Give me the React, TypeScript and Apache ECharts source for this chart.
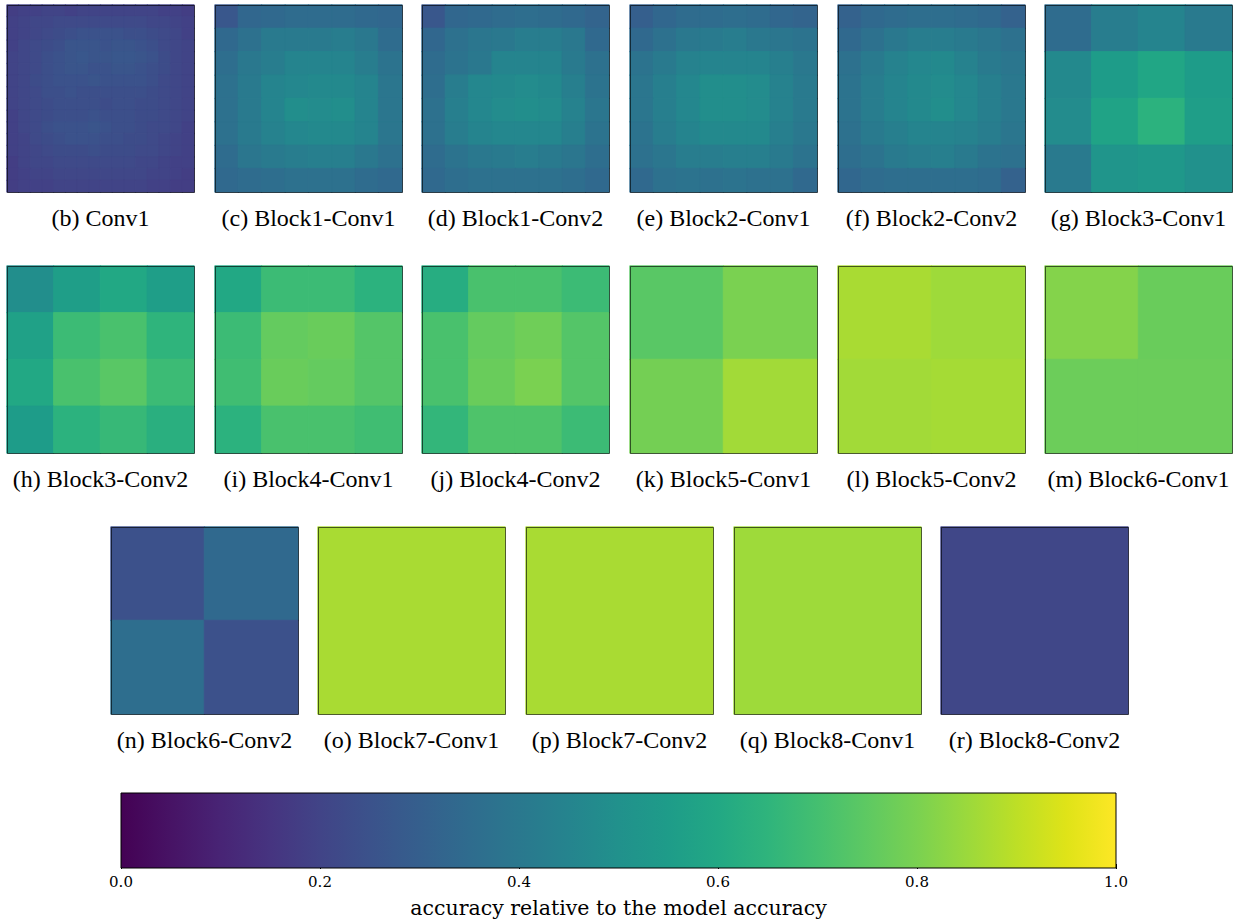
import React, { useEffect, useRef } from "react";
import * as echarts from "echarts";

const viridis = ['#440154','#471365','#482475','#463480','#414487','#3b528b','#355f8d','#2f6c8e','#2a788e','#25848e','#21918c','#1e9c89','#22a884','#2fb47c','#44bf70','#5ec962','#7ad151','#9bd93c','#bddf26','#dfe318','#fde725'];

const conv1 = [
  [.18,.19,.19,.20,.20,.19,.20,.20,.20,.20,.20,.20,.20,.19,.19,.18],
  [.19,.20,.21,.21,.22,.22,.22,.22,.22,.22,.22,.22,.21,.21,.20,.19],
  [.19,.20,.21,.22,.23,.24,.25,.25,.25,.25,.24,.24,.23,.22,.21,.19],
  [.19,.21,.22,.23,.24,.26,.26,.26,.25,.26,.26,.25,.24,.22,.21,.20],
  [.20,.21,.22,.24,.25,.26,.27,.26,.26,.27,.27,.26,.25,.23,.21,.20],
  [.20,.21,.22,.24,.25,.26,.26,.25,.25,.26,.26,.25,.24,.23,.21,.20],
  [.20,.21,.23,.24,.25,.25,.25,.26,.25,.25,.25,.25,.24,.22,.21,.20],
  [.20,.21,.22,.24,.24,.25,.24,.24,.24,.24,.24,.24,.23,.22,.21,.20],
  [.20,.21,.22,.23,.24,.24,.24,.24,.23,.24,.24,.23,.23,.22,.21,.20],
  [.19,.21,.22,.23,.24,.24,.24,.25,.24,.24,.24,.23,.23,.22,.21,.20],
  [.19,.21,.22,.24,.25,.25,.25,.26,.25,.24,.24,.23,.22,.22,.21,.19],
  [.19,.20,.22,.23,.24,.25,.25,.25,.24,.24,.23,.23,.22,.21,.20,.19],
  [.19,.20,.21,.22,.23,.23,.23,.24,.23,.23,.23,.22,.22,.21,.20,.19],
  [.18,.20,.21,.21,.22,.22,.22,.22,.22,.22,.22,.21,.21,.20,.19,.19],
  [.18,.19,.20,.20,.21,.21,.21,.21,.21,.21,.21,.21,.20,.20,.19,.18],
  [.18,.19,.19,.19,.20,.20,.20,.20,.20,.20,.20,.20,.19,.19,.18,.18],
];

const block1Conv1 = [
  [.27,.33,.34,.35,.35,.35,.34,.33],
  [.34,.37,.41,.41,.41,.42,.40,.35],
  [.36,.40,.42,.45,.45,.45,.42,.38],
  [.37,.41,.45,.46,.47,.47,.45,.39],
  [.37,.41,.45,.49,.48,.49,.45,.39],
  [.37,.41,.44,.46,.47,.47,.45,.39],
  [.35,.39,.41,.42,.43,.43,.40,.37],
  [.34,.35,.36,.37,.37,.37,.35,.34],
];
const block1Conv2 = [
  [.27,.33,.34,.35,.36,.35,.34,.32],
  [.33,.37,.39,.40,.42,.42,.40,.34],
  [.35,.38,.40,.45,.45,.45,.41,.37],
  [.36,.42,.46,.47,.48,.47,.43,.38],
  [.37,.43,.46,.48,.49,.48,.44,.39],
  [.37,.42,.45,.46,.46,.46,.43,.38],
  [.35,.38,.40,.41,.42,.41,.39,.36],
  [.34,.36,.37,.37,.37,.37,.36,.34],
];
const block2Conv1 = [
  [.30,.33,.35,.35,.36,.35,.33,.32],
  [.34,.37,.40,.41,.42,.40,.39,.38],
  [.38,.41,.44,.45,.45,.45,.43,.40],
  [.39,.43,.46,.49,.49,.48,.44,.41],
  [.39,.43,.46,.49,.49,.48,.44,.41],
  [.38,.42,.45,.47,.47,.47,.43,.40],
  [.37,.39,.42,.42,.43,.43,.41,.38],
  [.34,.37,.38,.37,.38,.37,.37,.34],
];
const block2Conv2 = [
  [.31,.34,.35,.36,.36,.35,.34,.31],
  [.34,.37,.40,.42,.42,.41,.39,.37],
  [.37,.41,.44,.46,.47,.44,.41,.39],
  [.38,.42,.45,.47,.48,.46,.43,.40],
  [.38,.42,.45,.47,.49,.46,.43,.40],
  [.37,.41,.43,.45,.45,.44,.42,.39],
  [.36,.38,.41,.42,.43,.41,.38,.37],
  [.33,.35,.36,.36,.36,.36,.35,.31],
];
const block3Conv1 = [
  [.35,.42,.45,.41],
  [.47,.55,.59,.55],
  [.48,.58,.64,.56],
  [.41,.52,.53,.50],
];
const block3Conv2 = [
  [.49,.56,.60,.56],
  [.57,.68,.71,.65],
  [.60,.71,.74,.68],
  [.55,.64,.67,.63],
];
const block4Conv1 = [
  [.60,.68,.68,.64],
  [.68,.76,.77,.73],
  [.69,.77,.76,.73],
  [.64,.71,.71,.69],
];
const block4Conv2 = [
  [.62,.71,.71,.68],
  [.71,.76,.78,.73],
  [.71,.77,.80,.73],
  [.66,.72,.72,.68],
];
const block5Conv1 = [[.74,.80],[.79,.86]];
const block5Conv2 = [[.87,.855],[.86,.865]];
const block6Conv1 = [[.815,.77],[.775,.775]];
const block6Conv2 = [[.245,.34],[.36,.245]];
const block7Conv1 = [[.87]];
const block7Conv2 = [[.87]];
const block8Conv1 = [[.855]];
const block8Conv2 = [[.21]];

const panelLabels = ['(b) Conv1','(c) Block1-Conv1','(d) Block1-Conv2','(e) Block2-Conv1','(f) Block2-Conv2','(g) Block3-Conv1','(h) Block3-Conv2','(i) Block4-Conv1','(j) Block4-Conv2','(k) Block5-Conv1','(l) Block5-Conv2','(m) Block6-Conv1','(n) Block6-Conv2','(o) Block7-Conv1','(p) Block7-Conv2','(q) Block8-Conv1','(r) Block8-Conv2'];
const panelData = [conv1, block1Conv1, block1Conv2, block2Conv1, block2Conv2, block3Conv1, block3Conv2, block4Conv1, block4Conv2, block5Conv1, block5Conv2, block6Conv1, block6Conv2, block7Conv1, block7Conv2, block8Conv1, block8Conv2];

const colorbarTicks = [0, 0.2, 0.4, 0.6, 0.8, 1.0];
const colorbarTitle = 'accuracy relative to the model accuracy';

export default function App() {
  const ref = useRef<HTMLDivElement>(null);
  useEffect(() => {
    if (!ref.current) return;
    const chart = echarts.init(ref.current, null, { renderer: "svg" });
    const rowLefts = [[7,215,422,630,838,1045],[7,215,422,630,838,1045],[111,318,526,734,941]];
    const rowTops = [5,266,527];
    const SIZE = 187;
    const pos: {left:number, top:number}[] = [];
    rowLefts.forEach((lefts, r) => lefts.forEach(l => pos.push({ left: l, top: rowTops[r] })));

    const grid: any[] = [];
    const xAxis: any[] = [];
    const yAxis: any[] = [];
    const series: any[] = [];
    const graphic: any[] = [];
    panelData.forEach((m, i) => {
      const idx = m[0].map((_, k) => String(k));
      grid.push({ left: pos[i].left, top: pos[i].top, width: SIZE, height: SIZE, show: false });
      xAxis.push({ type: 'category', gridIndex: i, data: idx, show: false });
      yAxis.push({ type: 'category', gridIndex: i, data: m.map((_, k) => String(k)), inverse: true, show: false });
      const d: any[] = [];
      m.forEach((row, r) => row.forEach((v, c) => d.push({
        value: [c, r, v],
        itemStyle: { borderColor: (echarts as any).color.lerp(v, viridis), borderWidth: 0.8 },
      })));
      series.push({ type: 'heatmap', xAxisIndex: i, yAxisIndex: i, data: d, emphasis: { disabled: true } });
      graphic.push({ type: 'rect', z: 100, shape: { x: pos[i].left + 0.5, y: pos[i].top + 0.5, width: SIZE, height: SIZE }, style: { fill: 'none', stroke: 'rgba(0,0,0,0.6)', lineWidth: 1 } });
      graphic.push({ type: 'text', z: 100, x: pos[i].left + SIZE / 2, y: pos[i].top + SIZE + 26, style: { text: panelLabels[i], textAlign: 'center', textVerticalAlign: 'middle', fontFamily: 'Liberation Serif', fontSize: 24, fill: '#000' } });
    });
    const cb = { left: 121, top: 793, width: 995, height: 75 };
    const cbIndex = panelData.length;
    grid.push({ ...cb, show: false });
    xAxis.push({ type: 'value', gridIndex: cbIndex, min: 0, max: 1, interval: 0.2,
      axisLine: { show: false }, splitLine: { show: false },
      axisTick: { show: true, length: 5, lineStyle: { color: '#000' } },
      axisLabel: { formatter: (v: number) => colorbarTicks.includes(Math.round(v * 10) / 10) ? v.toFixed(1) : '', fontFamily: 'DejaVu Serif', fontSize: 15, color: '#000', margin: 10 },
      name: colorbarTitle, nameLocation: 'middle', nameGap: 33, nameTextStyle: { fontFamily: 'DejaVu Serif', fontSize: 20.5, color: '#000' } });
    yAxis.push({ type: 'value', gridIndex: cbIndex, min: 0, max: 1, show: false });
    series.push({ type: 'line', xAxisIndex: cbIndex, yAxisIndex: cbIndex, data: [], silent: true });
    graphic.push({ type: 'rect', z: 1, shape: { x: cb.left, y: cb.top, width: cb.width, height: cb.height },
      style: { fill: new echarts.graphic.LinearGradient(0, 0, 1, 0, viridis.map((c, k) => ({ offset: k / (viridis.length - 1), color: c }))), stroke: '#000', lineWidth: 1 } });

    chart.setOption({
      animation: false,
      backgroundColor: '#fff',
      grid, xAxis, yAxis, series, graphic,
      visualMap: { type: 'continuous', show: false, min: 0, max: 1, seriesIndex: panelData.map((_, i) => i), inRange: { color: viridis } },
    });
    return () => chart.dispose();
  }, []);
  return <div ref={ref} style={{ position: 'fixed', left: 0, top: 0, width: 1234, height: 919 }} />;
}
